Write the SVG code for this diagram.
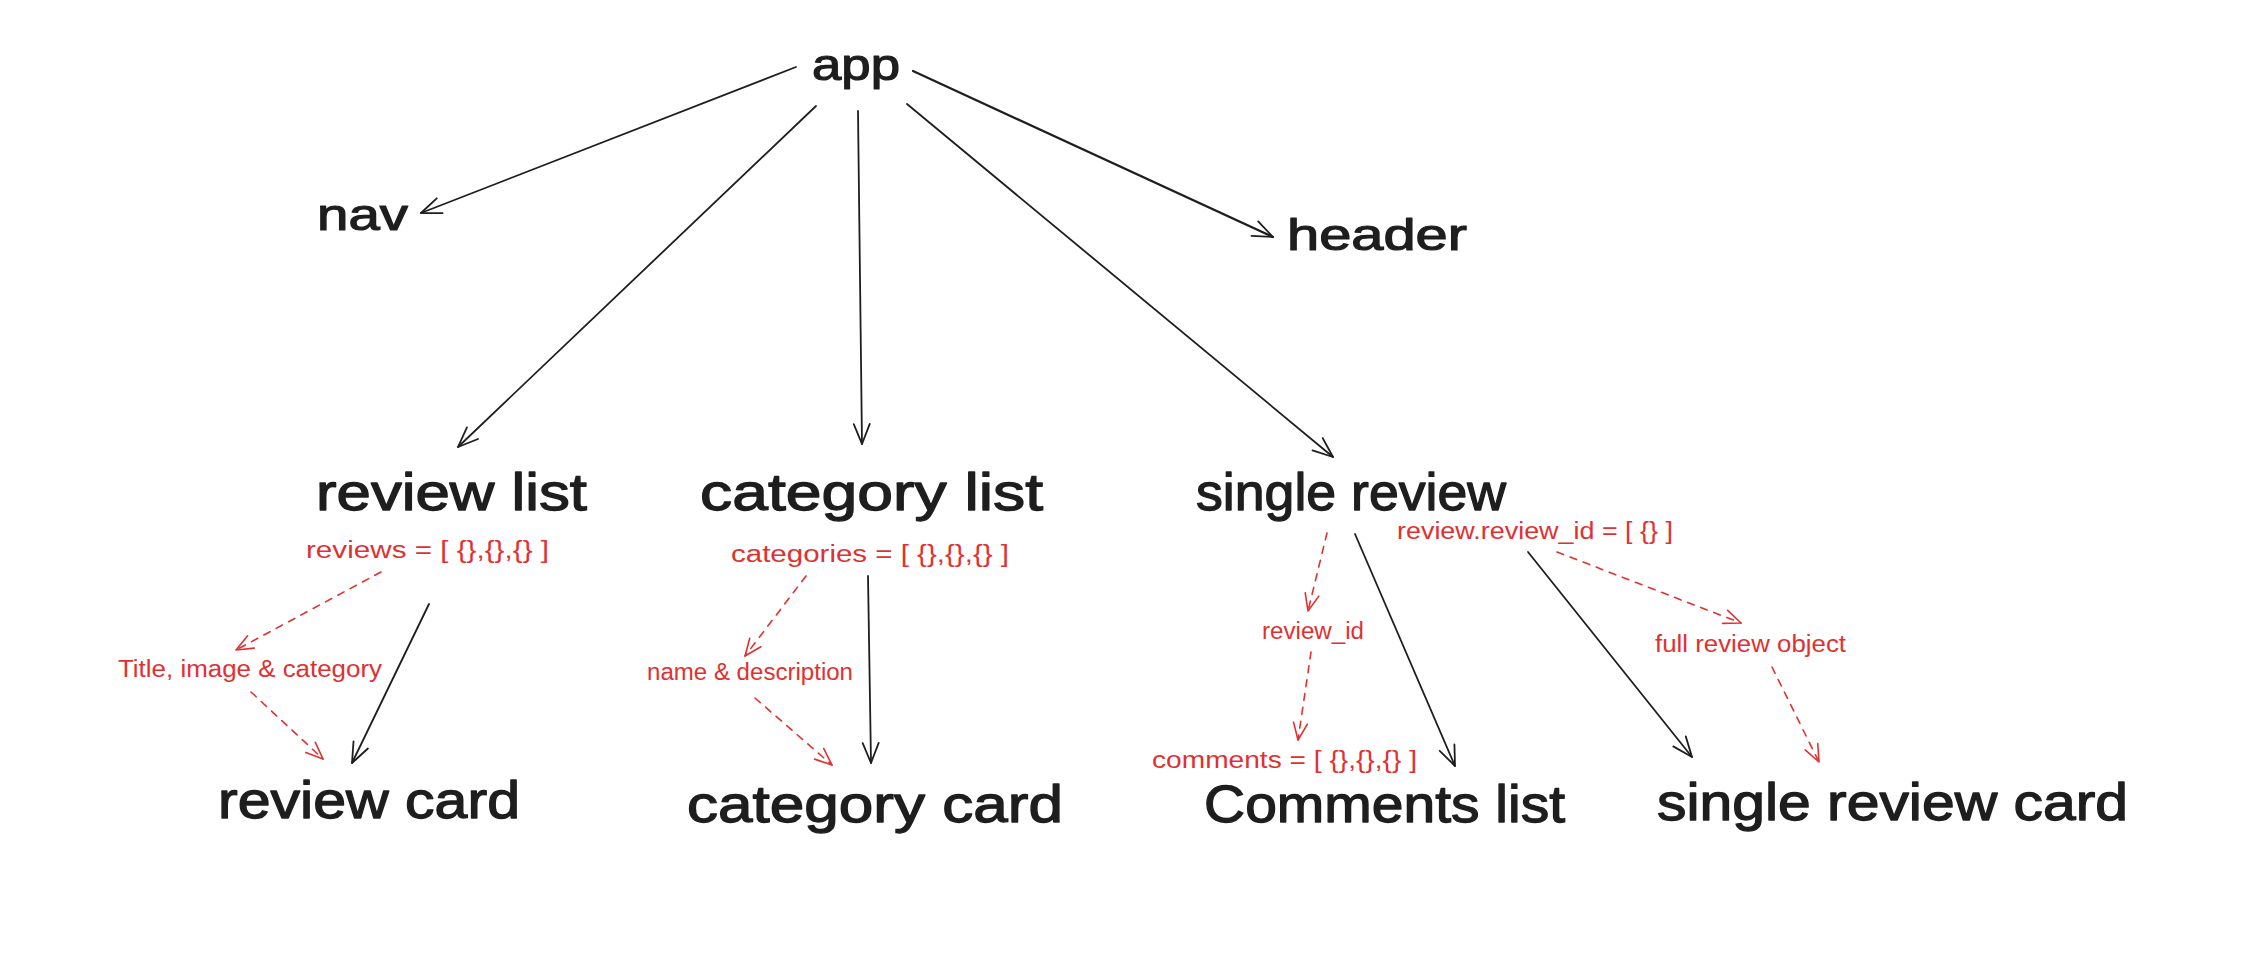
<svg xmlns="http://www.w3.org/2000/svg" width="2260" height="958" viewBox="0 0 2260 958">
<style>
.big{font-family:"Liberation Sans","DejaVu Sans",sans-serif;fill:#1e1e1e;font-size:52px;stroke:#1e1e1e;stroke-width:1.3;stroke-linejoin:round}
.top{font-family:"Liberation Sans","DejaVu Sans",sans-serif;fill:#1e1e1e;font-size:44px;stroke:#1e1e1e;stroke-width:1.2;stroke-linejoin:round}
.red{font-family:"Liberation Sans","DejaVu Sans",sans-serif;fill:#e03131;font-size:23px}
.lk{fill:none;stroke:#1e1e1e;stroke-width:1.8;stroke-linecap:round;marker-end:url(#ab)}
.ld{fill:none;stroke:#e03131;stroke-width:1.6;stroke-linecap:round;stroke-dasharray:7 7;marker-end:url(#ar)}
</style>
<defs>
<marker id="ab" markerUnits="userSpaceOnUse" orient="auto" overflow="visible" refX="0" refY="0" markerWidth="1" markerHeight="1"><path d="M-20,-8 L0,0 L-20,8" fill="none" stroke="#1e1e1e" stroke-width="1.8" stroke-linecap="round" stroke-linejoin="round"/></marker>
<marker id="ar" markerUnits="userSpaceOnUse" orient="auto" overflow="visible" refX="0" refY="0" markerWidth="1" markerHeight="1"><path d="M-17,-7 L0,0 L-17,7" fill="none" stroke="#e03131" stroke-width="1.6" stroke-linecap="round" stroke-linejoin="round"/></marker>
</defs>
<rect width="2260" height="958" fill="#ffffff"/>
<g id="connectors">
<path class="lk" d="M796,67 L421,213"/>
<path class="lk" d="M913,71 L1273,237" style="stroke-width:2.2"/>
<path class="lk" d="M816,106 L458,447"/>
<path class="lk" d="M858,111 L862,444"/>
<path class="lk" d="M907,104 L1333,457"/>
<path class="lk" d="M429,604 L352,763"/>
<path class="lk" d="M868,576 L871,763"/>
<path class="lk" d="M1355,534 L1455,766"/>
<path class="lk" d="M1528,552 L1692,757"/>
<path class="ld" d="M381,572 L236,650"/>
<path class="ld" d="M251,692 L323,759"/>
<path class="ld" d="M806,576 L745,656"/>
<path class="ld" d="M755,698 L832,765"/>
<path class="ld" d="M1327,533 L1308,611"/>
<path class="ld" d="M1311,652 L1298,740"/>
<path class="ld" d="M1557,552 L1741,623"/>
<path class="ld" d="M1772,667 L1819,762"/>
</g>
<g id="app"><text class="top" x="812" y="80" textLength="88" lengthAdjust="spacingAndGlyphs">app</text></g>
<g id="nav"><text class="top" x="317" y="230" textLength="91" lengthAdjust="spacingAndGlyphs">nav</text></g>
<g id="header"><text class="top" x="1287" y="250" textLength="180" lengthAdjust="spacingAndGlyphs">header</text></g>
<g id="review-list"><text class="big" x="316" y="510" textLength="271" lengthAdjust="spacingAndGlyphs">review list</text></g>
<g id="category-list"><text class="big" x="700" y="510" textLength="343" lengthAdjust="spacingAndGlyphs">category list</text></g>
<g id="single-review"><text class="big" x="1196" y="510" textLength="310" lengthAdjust="spacingAndGlyphs">single review</text></g>
<g id="review-card"><text class="big" x="218" y="818" textLength="302" lengthAdjust="spacingAndGlyphs">review card</text></g>
<g id="category-card"><text class="big" x="687" y="822" textLength="376" lengthAdjust="spacingAndGlyphs">category card</text></g>
<g id="comments-list"><text class="big" x="1204" y="822" textLength="361" lengthAdjust="spacingAndGlyphs">Comments list</text></g>
<g id="single-review-card"><text class="big" x="1657" y="820" textLength="471" lengthAdjust="spacingAndGlyphs">single review card</text></g>
<g id="labels">
<text class="red" x="306" y="558" textLength="243" lengthAdjust="spacingAndGlyphs">reviews = [ {},{},{} ]</text>
<text class="red" x="118" y="677" textLength="264" lengthAdjust="spacingAndGlyphs">Title, image &amp; category</text>
<text class="red" x="731" y="562" textLength="278" lengthAdjust="spacingAndGlyphs">categories = [ {},{},{} ]</text>
<text class="red" x="647" y="680" textLength="206" lengthAdjust="spacingAndGlyphs">name &amp; description</text>
<text class="red" x="1397" y="539" textLength="276" lengthAdjust="spacingAndGlyphs">review.review_id = [ {} ]</text>
<text class="red" x="1262" y="639" textLength="102" lengthAdjust="spacingAndGlyphs">review_id</text>
<text class="red" x="1152" y="768" textLength="265" lengthAdjust="spacingAndGlyphs">comments = [ {},{},{} ]</text>
<text class="red" x="1655" y="652" textLength="191" lengthAdjust="spacingAndGlyphs">full review object</text>
</g>
</svg>
